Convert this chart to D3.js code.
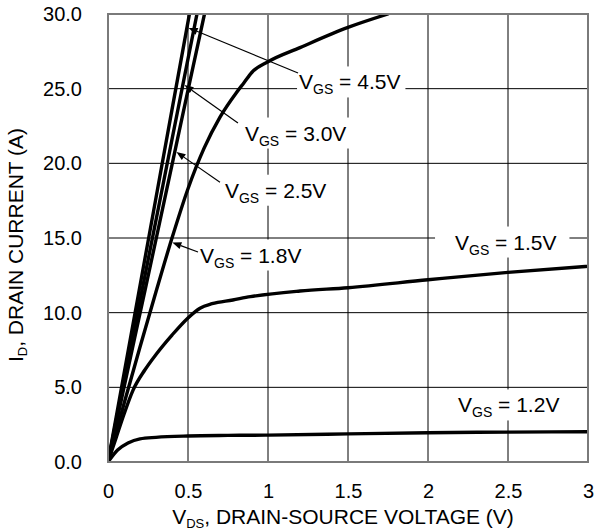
<!DOCTYPE html>
<html>
<head>
<meta charset="utf-8">
<script src="https://cdn.jsdelivr.net/npm/d3@7"></script>
<style>
  html, body { margin: 0; padding: 0; background: #fff; }
  svg { display: block; }
  text { font-family: "Liberation Sans", Arial, Helvetica, sans-serif; fill: #000; }
</style>
</head>
<body>
<svg id="chart" width="595" height="531"></svg>
<script>
// Output characteristics: drain current vs drain-source voltage, one curve per gate voltage
const xTicks = [0, 0.5, 1, 1.5, 2, 2.5, 3];
const xTickLabels = ["0", "0.5", "1", "1.5", "2", "2.5", "3"];
const yTicks = [0, 5, 10, 15, 20, 25, 30];
const yTickLabels = ["0.0", "5.0", "10.0", "15.0", "20.0", "25.0", "30.0"];

const gateVoltages = ["4.5V", "3.0V", "2.5V", "1.8V", "1.5V", "1.2V"];

// [VDS (V), ID (A)]
const vgs45 = [[0, 0], [0.1, 5.9], [0.2, 11.8], [0.3, 17.7], [0.4, 23.6], [0.509, 30]];
const vgs30 = [[0, 0], [0.1, 5.4], [0.2, 10.8], [0.3, 16.2], [0.4, 21.6], [0.5, 27.0], [0.556, 30]];
const vgs25 = [[0, 0], [0.1, 5.0], [0.2, 9.95], [0.3, 14.9], [0.4, 19.9], [0.5, 24.9], [0.603, 30]];
const vgs18 = [[0, 0], [0.1, 3.9], [0.2, 7.7], [0.3, 11.4], [0.4, 15.0], [0.5, 18.3], [0.6, 21.0],
               [0.7, 23.1], [0.8, 24.7], [0.85, 25.4], [0.9, 26.1], [1.0, 26.8], [1.2, 27.75],
               [1.5, 29.1], [1.75, 30]];
const vgs15 = [[0, 0], [0.05, 1.6], [0.1, 3.2], [0.156, 4.8], [0.23, 6.16], [0.3, 7.2], [0.4, 8.5],
               [0.5, 9.65], [0.575, 10.3], [0.65, 10.6], [0.78, 10.85], [0.89, 11.07], [1.2, 11.45],
               [1.5, 11.67], [2.0, 12.2], [2.5, 12.7], [3.0, 13.1]];
const vgs12 = [[0, 0], [0.06, 0.8], [0.125, 1.27], [0.2, 1.55], [0.3, 1.65], [0.5, 1.74], [0.75, 1.78],
               [1.0, 1.8], [1.5, 1.88], [2.0, 1.96], [2.5, 2.0], [3.0, 2.03]];

const seriesData = [vgs45, vgs30, vgs25, vgs18, vgs15, vgs12];

// Curve labels: text anchor in data units, optional arrow pointing at a current on the curve
const annotations = [
  { series: 0, at: [1.194, 25.45], arrowAt: 29.07, arrowFrom: [-1, -9],  box: [2, 5] },
  { series: 1, at: [0.856, 22.03], arrowAt: 25.25, arrowFrom: [-7, -10], box: [6, 6] },
  { series: 2, at: [0.731, 18.2],  arrowAt: 20.76, arrowFrom: [-5, -8],  box: [6, 6] },
  { series: 3, at: [0.575, 13.86], arrowAt: 14.7,  arrowFrom: [-2, -3],  box: [4, 6] },
  { series: 4, at: [2.169, 14.73], arrowAt: null,  arrowFrom: null,      box: [20, 13] },
  { series: 5, at: [2.1875, 3.82], arrowAt: null,  arrowFrom: null,      box: [13, 13] }
];

const svg = d3.select("#chart");
const plot = { left: 108, right: 588, top: 14, bottom: 462 };

const x = d3.scaleLinear().domain([0, 3]).range([plot.left, plot.right]);
const y = d3.scaleLinear().domain([0, 30]).range([plot.bottom, plot.top]);

svg.append("defs").append("clipPath").attr("id", "plot-clip")
  .append("rect")
  .attr("x", plot.left).attr("y", plot.top)
  .attr("width", plot.right - plot.left).attr("height", plot.bottom - plot.top);

// Grid
const grid = svg.append("g").attr("stroke", "#000").attr("stroke-width", 1);
grid.selectAll("line.v").data(xTicks.slice(1, -1)).join("line")
  .attr("class", "v")
  .attr("x1", d => x(d)).attr("x2", d => x(d))
  .attr("y1", plot.top).attr("y2", plot.bottom);
grid.selectAll("line.h").data(yTicks.slice(1, -1)).join("line")
  .attr("class", "h")
  .attr("x1", plot.left).attr("x2", plot.right)
  .attr("y1", d => y(d)).attr("y2", d => y(d));

// Axes (labels only)
const yAxis = svg.append("g")
  .attr("transform", `translate(${plot.left},0)`)
  .call(d3.axisLeft(y).tickValues(yTicks).tickFormat((d, i) => yTickLabels[i]).tickSize(0).tickPadding(26));
const xAxis = svg.append("g")
  .attr("transform", `translate(0,${plot.bottom})`)
  .call(d3.axisBottom(x).tickValues(xTicks).tickFormat((d, i) => xTickLabels[i]).tickSize(0).tickPadding(22));
[xAxis, yAxis].forEach(a => {
  a.select(".domain").remove();
  a.selectAll("text").attr("font-size", 20).attr("font-family", null).style("fill", "#000");
  a.attr("font-family", null);
});

// Label boxes (white, hide the grid behind the text)
const boxLayer = svg.append("g");
const curveLayer = svg.append("g").attr("clip-path", "url(#plot-clip)");
const arrowLayer = svg.append("g");
const textLayer = svg.append("g");

// Frame
svg.append("rect")
  .attr("x", plot.left).attr("y", plot.top)
  .attr("width", plot.right - plot.left).attr("height", plot.bottom - plot.top)
  .attr("fill", "none").attr("stroke", "#7a7a7a").attr("stroke-width", 2);

const line = d3.line().x(d => x(d[0])).y(d => y(d[1])).curve(d3.curveMonotoneX);
curveLayer.selectAll("path").data(seriesData).join("path")
  .attr("d", line)
  .attr("fill", "none").attr("stroke", "#000").attr("stroke-width", 3.4)
  .attr("stroke-linejoin", "round").attr("stroke-linecap", "round");

function vdsAtCurrent(pts, current) {
  for (let i = 1; i < pts.length; i++) {
    const [x0, y0] = pts[i - 1], [x1, y1] = pts[i];
    if (current >= y0 && current <= y1) return x0 + (x1 - x0) * (current - y0) / (y1 - y0);
  }
  return pts[pts.length - 1][0];
}

function vgsLabel(sel, value) {
  sel.append("tspan").text("V");
  sel.append("tspan").attr("font-size", 14).attr("dy", 5).text("GS");
  sel.append("tspan").attr("dy", -5).text(" = " + value);
}

annotations.forEach(a => {
  const tx = x(a.at[0]);
  const cy = y(a.at[1]);
  const baseline = cy + 7.5;
  const t = textLayer.append("text")
    .attr("x", tx).attr("y", baseline)
    .attr("font-size", 21)
    .call(vgsLabel, gateVoltages[a.series]);
  const bb = t.node().getBBox();
  boxLayer.append("rect")
    .attr("x", bb.x - a.box[0]).attr("y", baseline - 23)
    .attr("width", bb.width + a.box[0] + a.box[1]).attr("height", 31)
    .attr("fill", "#fff");

  if (a.arrowAt != null) {
    const pts = seriesData[a.series];
    const tipX = x(vdsAtCurrent(pts, a.arrowAt)) + 1.7;
    const tipY = y(a.arrowAt);
    const sx = tx + a.arrowFrom[0], sy = cy + a.arrowFrom[1];
    const ang = Math.atan2(tipY - sy, tipX - sx);
    const len = 9, half = 3.6;
    const bx = tipX - len * Math.cos(ang), by = tipY - len * Math.sin(ang);
    arrowLayer.append("line")
      .attr("x1", sx).attr("y1", sy).attr("x2", bx).attr("y2", by)
      .attr("stroke", "#000").attr("stroke-width", 1.2);
    arrowLayer.append("path")
      .attr("d", `M${tipX},${tipY}L${bx + half * Math.sin(ang)},${by - half * Math.cos(ang)}L${bx - half * Math.sin(ang)},${by + half * Math.cos(ang)}Z`)
      .attr("fill", "#000");
  }
});

// Axis titles
svg.append("text")
  .attr("x", (plot.left + plot.right) / 2 - 5).attr("y", 524)
  .attr("text-anchor", "middle").attr("font-size", 21)
  .call(s => {
    s.append("tspan").text("V");
    s.append("tspan").attr("font-size", 13).attr("dy", 4).text("DS");
    s.append("tspan").attr("dy", -4).text(", DRAIN-SOURCE VOLTAGE (V)");
  });

svg.append("text")
  .attr("transform", `translate(23,${(plot.top + plot.bottom) / 2 + 7}) rotate(-90)`)
  .attr("text-anchor", "middle").attr("font-size", 21)
  .call(s => {
    s.append("tspan").text("I");
    s.append("tspan").attr("font-size", 13).attr("dy", 4).text("D");
    s.append("tspan").attr("dy", -4).text(", DRAIN CURRENT (A)");
  });
</script>
</body>
</html>
